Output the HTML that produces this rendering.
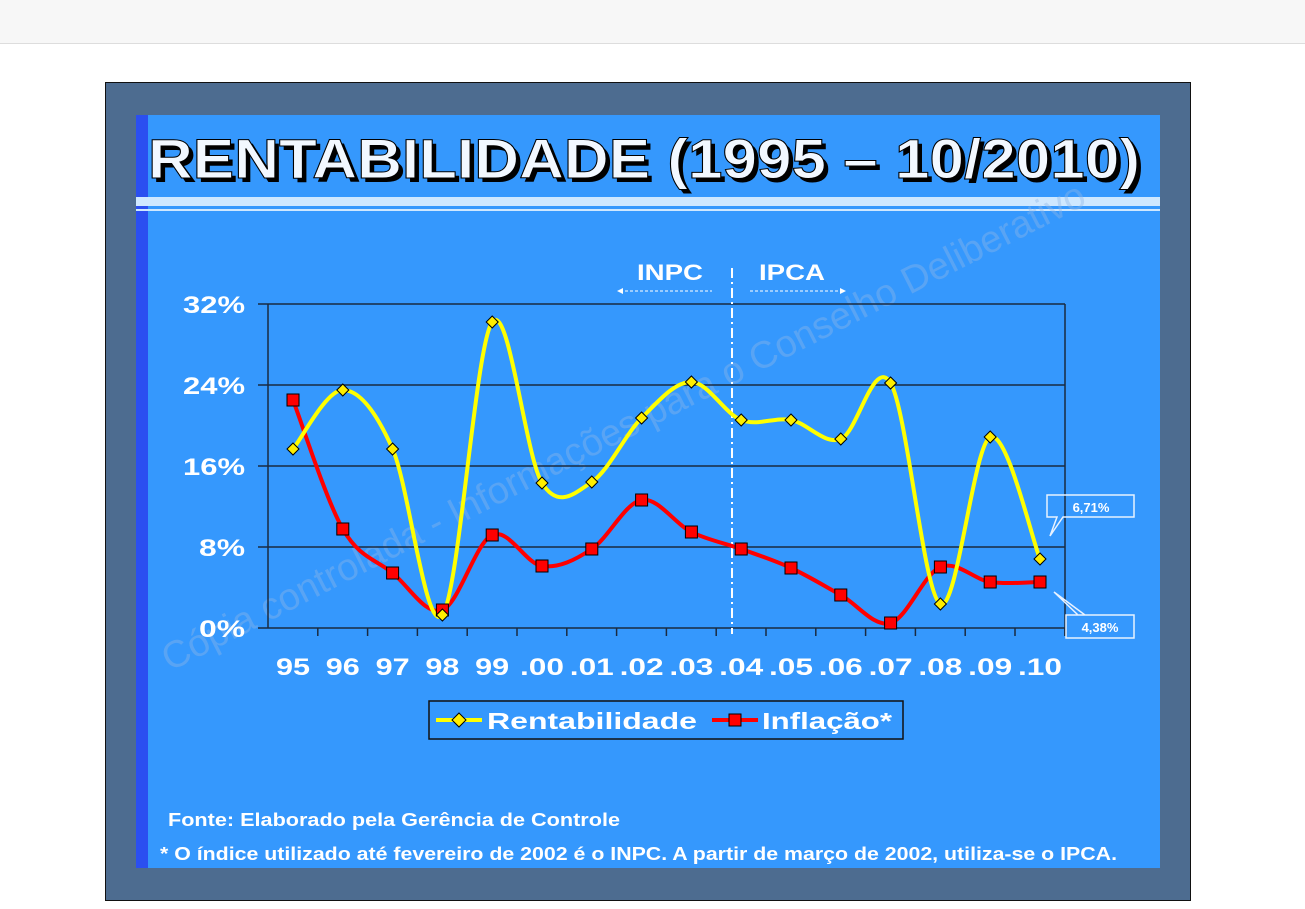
<!DOCTYPE html>
<html><head><meta charset="utf-8"><style>
body{margin:0;width:1305px;height:909px;background:#fff;position:relative;overflow:hidden;font-family:"Liberation Sans",sans-serif}
.top{position:absolute;left:0;top:0;width:1305px;height:43px;background:#f7f7f7;border-bottom:1px solid #ddd}
.frame{position:absolute;left:105px;top:82px;width:1084px;height:817px;background:#4d6c90;border:1px solid #111}
.panel{position:absolute;left:136px;top:115px;width:1024px;height:753px;background:#3598fd}
.stripe{position:absolute;left:136px;top:115px;width:12px;height:753px;background:#2b4ff0}
</style></head><body>
<div class="top"></div>
<div class="frame"></div>
<div class="panel"></div>
<div class="stripe"></div>
<svg width="1305" height="909" style="position:absolute;left:0;top:0" font-family="Liberation Sans, sans-serif">
<rect x="136" y="197" width="1024" height="9" fill="#cfe8ff"/>
<rect x="136" y="209" width="1024" height="2" fill="#cfe8ff"/>
<text x="152" y="182" font-size="56" font-weight="bold" fill="#000" textLength="992" lengthAdjust="spacingAndGlyphs">RENTABILIDADE (1995 – 10/2010)</text>
<text x="148" y="178" font-size="56" font-weight="bold" fill="#f2f8ff" stroke="#000" stroke-width="1" textLength="992" lengthAdjust="spacingAndGlyphs">RENTABILIDADE (1995 – 10/2010)</text>
<text x="620" y="440" font-size="38" fill="#8fb8e8" opacity="0.4" text-anchor="middle" transform="rotate(-27 620 420)">Cópia controlada - Informações para o Conselho Deliberativo</text>
<g stroke="#1a2a40" stroke-width="1.5">
<line x1="268" y1="304" x2="1065" y2="304"/><line x1="268" y1="385" x2="1065" y2="385"/>
<line x1="268" y1="466" x2="1065" y2="466"/><line x1="268" y1="547" x2="1065" y2="547"/>
<line x1="268" y1="628" x2="1065" y2="628"/><line x1="268" y1="304" x2="268" y2="628"/><line x1="1065" y1="304" x2="1065" y2="628"/>
<line x1="258" y1="304" x2="268" y2="304"/><line x1="258" y1="385" x2="268" y2="385"/><line x1="258" y1="466" x2="268" y2="466"/><line x1="258" y1="547" x2="268" y2="547"/><line x1="258" y1="628" x2="268" y2="628"/>
</g>
<g id="ticks" stroke="#1a2a40" stroke-width="1.5"></g>
<g font-size="24" font-weight="bold" fill="#fff" text-anchor="end">
<text x="245" y="313" textLength="62" lengthAdjust="spacingAndGlyphs">32%</text><text x="245" y="394" textLength="62" lengthAdjust="spacingAndGlyphs">24%</text><text x="245" y="475" textLength="62" lengthAdjust="spacingAndGlyphs">16%</text><text x="245" y="556" textLength="46" lengthAdjust="spacingAndGlyphs">8%</text><text x="245" y="637" textLength="46" lengthAdjust="spacingAndGlyphs">0%</text></g>
<g id="xl" font-size="24" font-weight="bold" fill="#fff" text-anchor="middle"></g>
<line x1="732" y1="268" x2="732" y2="634" stroke="#fff" stroke-width="2" stroke-dasharray="10,4,2,4"/>
<text x="670" y="280" font-size="22" font-weight="bold" fill="#fff" text-anchor="middle" textLength="66" lengthAdjust="spacingAndGlyphs">INPC</text>
<text x="792" y="280" font-size="22" font-weight="bold" fill="#fff" text-anchor="middle" textLength="66" lengthAdjust="spacingAndGlyphs">IPCA</text>
<line x1="620" y1="291" x2="712" y2="291" stroke="#fff" stroke-dasharray="3,2"/><path d="M617 291 l6 -3 v6z" fill="#fff"/>
<line x1="750" y1="291" x2="842" y2="291" stroke="#fff" stroke-dasharray="3,2"/><path d="M846 291 l-6 -3 v6z" fill="#fff"/>
<path id="pr" fill="none" stroke="#ff0000" stroke-width="4"/>
<path id="py" fill="none" stroke="#ffff00" stroke-width="4"/>
<g id="mk"></g>
<path d="M1047 495 H1134 V517 H1063 L1050 536 L1057 517 H1047Z" fill="none" stroke="#e8f2ff" stroke-width="1.5"/>
<text x="1091" y="512" font-size="13" font-weight="bold" fill="#fff" text-anchor="middle">6,71%</text>
<path d="M1066 615 H1134 V638 H1066 V615 H1078 L1054 592 L1085 615" fill="none" stroke="#e8f2ff" stroke-width="1.5"/>
<text x="1100" y="632" font-size="13" font-weight="bold" fill="#fff" text-anchor="middle">4,38%</text>
<rect x="429" y="701" width="474" height="38" fill="none" stroke="#111" stroke-width="1.5"/>
<line x1="436" y1="720" x2="482" y2="720" stroke="#ffff00" stroke-width="4"/><path d="M459 713 l7 7 -7 7 -7 -7z" fill="#ffee00" stroke="#000"/>
<text x="487" y="729" font-size="23" font-weight="bold" fill="#fff" textLength="210" lengthAdjust="spacingAndGlyphs">Rentabilidade</text>
<line x1="712" y1="720" x2="758" y2="720" stroke="#ff0000" stroke-width="4"/><rect x="729" y="714" width="12" height="12" fill="#f00" stroke="#000"/>
<text x="762" y="729" font-size="23" font-weight="bold" fill="#fff" textLength="130" lengthAdjust="spacingAndGlyphs">Inflação*</text>
<text x="168" y="826" font-size="18" font-weight="bold" fill="#fff" textLength="452" lengthAdjust="spacingAndGlyphs">Fonte: Elaborado pela Gerência de Controle</text>
<text x="160" y="860" font-size="18" font-weight="bold" fill="#fff" textLength="957" lengthAdjust="spacingAndGlyphs">* O índice utilizado até fevereiro de 2002 é o INPC. A partir de março de 2002, utiliza-se o IPCA.</text>
</svg>
<script>
var xs=[],labs=["95","96","97","98","99",".00",".01",".02",".03",".04",".05",".06",".07",".08",".09",".10"];
for(var i=0;i<16;i++)xs.push(293+i*49.8);
var ry=[449,390,449,615,322,483,482,418,382,420,420,439,383,604,437,559];
var iy=[400,529,573,610,535,566,549,500,532,549,568,595,623,567,582,582];
function cr(y){var p=[];for(var i=0;i<16;i++)p.push([xs[i],y[i]]);var d="M"+p[0];for(var i=0;i<15;i++){var a=p[Math.max(0,i-1)],b=p[i],c=p[i+1],e=p[Math.min(15,i+2)];
d+=" C"+(b[0]+(c[0]-a[0])/6)+","+(b[1]+(c[1]-a[1])/6)+" "+(c[0]-(e[0]-b[0])/6)+","+(c[1]-(e[1]-b[1])/6)+" "+c[0]+","+c[1];}return d;}
document.getElementById("pr").setAttribute("d",cr(iy));
document.getElementById("py").setAttribute("d",cr(ry));
var ns="http://www.w3.org/2000/svg",mk=document.getElementById("mk"),xl=document.getElementById("xl"),tk=document.getElementById("ticks");
function el(t,a,p){var e=document.createElementNS(ns,t);for(var k in a)e.setAttribute(k,a[k]);p.appendChild(e);return e;}
for(var i=0;i<16;i++){
el("rect",{x:xs[i]-6,y:iy[i]-6,width:12,height:12,fill:"#f00",stroke:"#000"},mk);
el("path",{d:"M"+xs[i]+" "+(ry[i]-6)+" l6 6 -6 6 -6 -6z",fill:"#ffee00",stroke:"#000"},mk);
var t=el("text",{x:xs[i],y:675,textLength:(i<5?34:44),lengthAdjust:"spacingAndGlyphs"},xl);t.textContent=labs[i];
el("line",{x1:268+(i+1)*49.8,y1:628,x2:268+(i+1)*49.8,y2:636},tk);}
</script>
</body></html>
